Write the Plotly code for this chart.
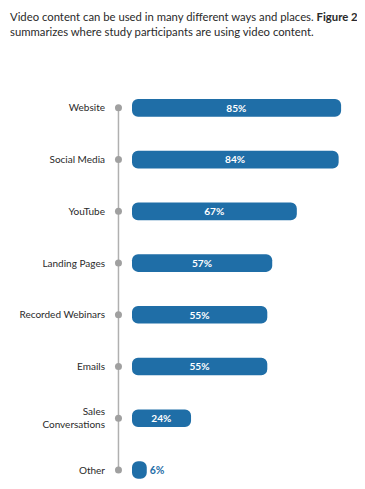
import plotly.graph_objects as go

categories = ["Website", "Social Media", "YouTube", "Landing Pages", "Recorded Webinars",
              "Emails", "Sales<br>Conversations", "Other"]
values = [85, 84, 67, 57, 55, 55, 24, 6]
labels = [f"{v}%" for v in values]

BAR = "#1f6ea7"
DOT_X = -5.5

L, T, R, B = 104, 74, 18, 13
PW = 365 - L - R
PH = 489 - T - B

fig = go.Figure()
# vertical guide line through the dots
fig.add_trace(go.Scatter(
    x=[DOT_X] * len(categories), y=categories, mode="lines+markers",
    line=dict(color="#b0b0b0", width=1.5),
    marker=dict(color="#a0a0a0", size=7),
    hoverinfo="skip", showlegend=False, cliponaxis=False))
fig.add_trace(go.Bar(
    x=values, y=categories, orientation="h", base=0,
    marker=dict(color=BAR, line=dict(width=0)),
    width=0.34,
    text=labels,
    textposition=["inside" if v > 10 else "outside" for v in values],
    insidetextanchor="middle",
    insidetextfont=dict(color="white", size=10.5, family="Lato", weight="bold"),
    outsidetextfont=dict(color=BAR, size=10.5, family="Lato", weight="bold"),
    cliponaxis=False, showlegend=False))

fig.update_layout(
    width=365, height=489,
    margin=dict(l=L, r=R, t=T, b=B, autoexpand=False),
    plot_bgcolor="white", paper_bgcolor="white",
    barcornerradius=6,
    font=dict(family="Lato", size=10, color="#2a2a2a"),
    xaxis=dict(range=[-8.13, 90.65], visible=False, fixedrange=True, automargin=False),
    yaxis=dict(categoryorder="array", categoryarray=categories,
               range=[7.27, -0.5], showgrid=False, zeroline=False, automargin=False,
               showline=False, ticks="", ticklabelstandoff=6,
               tickfont=dict(size=10, color="#2a2a2a")),
    annotations=[dict(
        text="Video content can be used in many different ways and places. <b>Figure 2</b><br>"
             "summarizes where study participants are using video content.",
        xref="paper", yref="paper", x=(0 - L) / PW, y=(T + PH - 0) / PH,
        xanchor="left", yanchor="top", align="left", showarrow=False,
        font=dict(size=11.3, color="#2a2a2a", family="Lato"))],
)

fig.write_html("out.html")
